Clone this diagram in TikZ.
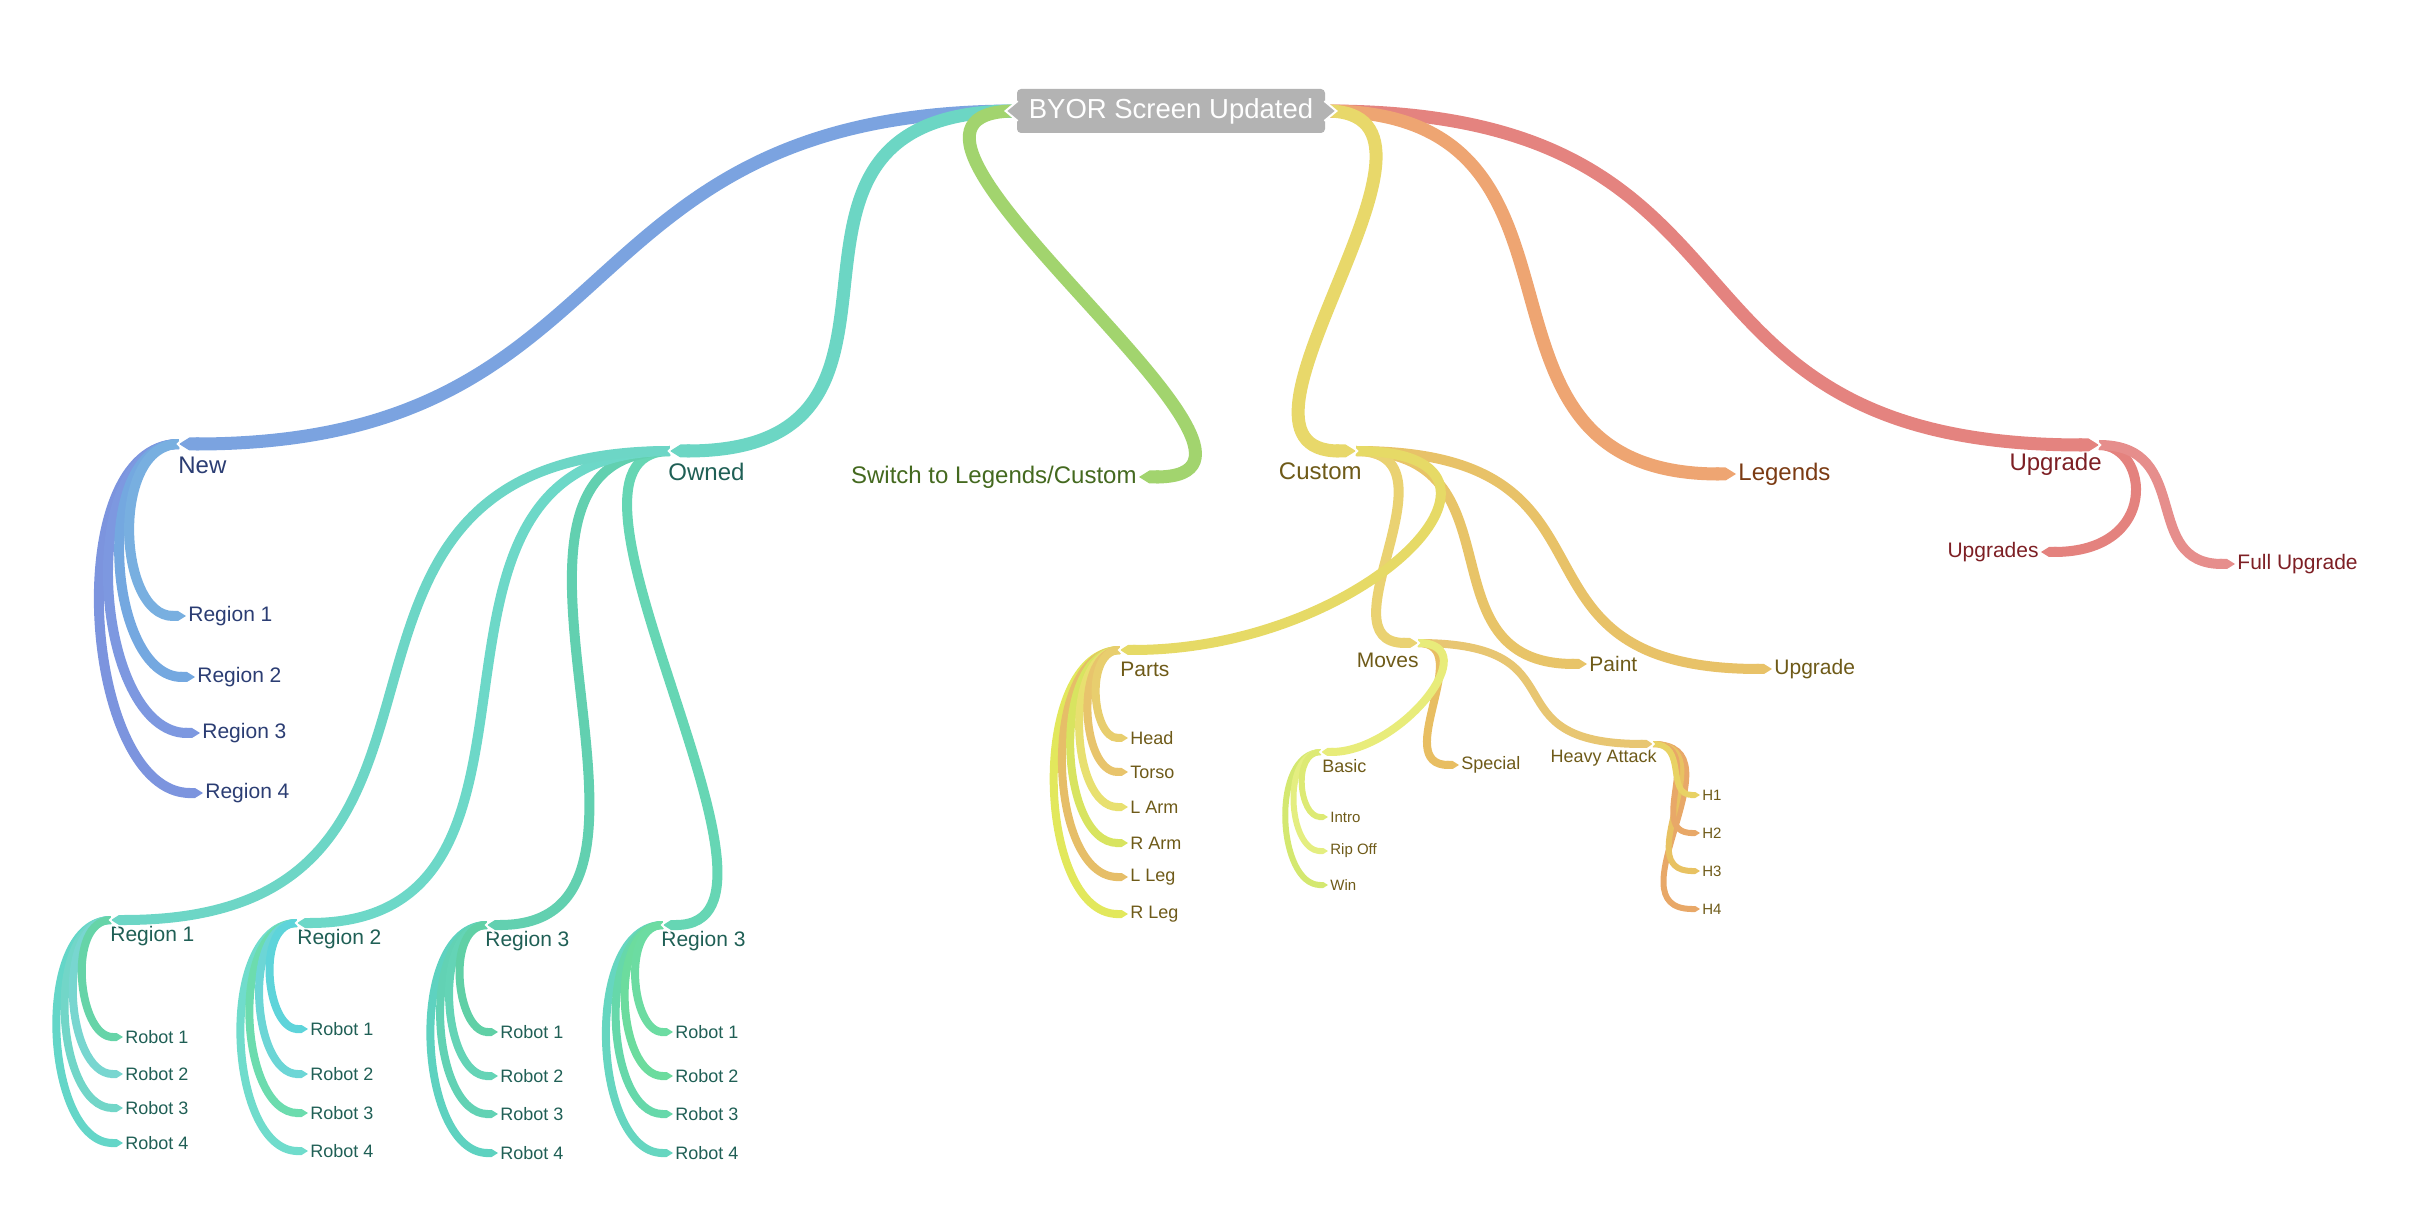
\documentclass[tikz,border=0pt]{standalone}
\usepackage{fontspec}
\setmainfont{Liberation Sans}
\usetikzlibrary{positioning,arrows.meta}

\definecolor{boxgray}{HTML}{B3B3B3}
\definecolor{navytxt}{HTML}{2B3D73}
\definecolor{tealtxt}{HTML}{1F5F55}
\definecolor{greentxt}{HTML}{44691F}
\definecolor{olivetxt}{HTML}{6E5A18}
\definecolor{browntxt}{HTML}{7B3B13}
\definecolor{redtxt}{HTML}{7D1F24}
\definecolor{bluemain}{HTML}{7BA3E0}
\definecolor{tealmain}{HTML}{6CD6C4}
\definecolor{greenmain}{HTML}{A2D46E}
\definecolor{yellowmain}{HTML}{E8D86A}
\definecolor{orangemain}{HTML}{EEA572}
\definecolor{redmain}{HTML}{E4837F}
% second level
\definecolor{nb1}{HTML}{78AFE0}\definecolor{nb2}{HTML}{74A8E0}
\definecolor{nb3}{HTML}{7D98E0}\definecolor{nb4}{HTML}{7C94DE}
\definecolor{to1}{HTML}{6DD6C6}\definecolor{to2}{HTML}{6DD8C8}
\definecolor{to3}{HTML}{62D0B0}\definecolor{to4}{HTML}{66D6B4}
\definecolor{r11}{HTML}{66D4A8}\definecolor{r12}{HTML}{78D6D0}
\definecolor{r13}{HTML}{72D6C8}\definecolor{r14}{HTML}{64D6C8}
\definecolor{r21}{HTML}{5ED4DA}\definecolor{r22}{HTML}{6CD6D6}
\definecolor{r23}{HTML}{6CDCAE}\definecolor{r24}{HTML}{70DCCC}
\definecolor{r31}{HTML}{60D0A6}\definecolor{r32}{HTML}{64D4B6}
\definecolor{r33}{HTML}{62D2B4}\definecolor{r34}{HTML}{5ED2C0}
\definecolor{r41}{HTML}{6CDCA2}\definecolor{r42}{HTML}{6CDC9E}
\definecolor{r43}{HTML}{66D8AA}\definecolor{r44}{HTML}{66D6C0}
\definecolor{cparts}{HTML}{E6DA66}\definecolor{cmoves}{HTML}{EAD272}
\definecolor{cpaint}{HTML}{E8C468}\definecolor{cupgc}{HTML}{E8C268}
\definecolor{ph}{HTML}{E8CE6E}\definecolor{pt}{HTML}{E8C46C}
\definecolor{pla}{HTML}{E8E070}\definecolor{pra}{HTML}{D8E460}
\definecolor{pll}{HTML}{E6BE68}\definecolor{prl}{HTML}{E2E85C}
\definecolor{mbasic}{HTML}{E8EC7A}\definecolor{mspec}{HTML}{E8BE62}
\definecolor{mheavy}{HTML}{E8C672}
\definecolor{bi}{HTML}{DDEA74}\definecolor{brip}{HTML}{E4EE80}
\definecolor{bw}{HTML}{D4E870}
\definecolor{hh1}{HTML}{E8D264}\definecolor{hh2}{HTML}{E8A868}
\definecolor{hh3}{HTML}{E8C262}\definecolor{hh4}{HTML}{E8A868}
\definecolor{upgsc}{HTML}{E4827E}\definecolor{fullc}{HTML}{E68E8C}

\tikzset{
  b1/.style={line width=6.5pt,-{Triangle Cap[length=0pt 0.8]}},
  b2/.style={line width=5pt,-{Triangle Cap[length=0pt 0.8]}},
  b3/.style={line width=4pt,-{Triangle Cap[length=0pt 0.8]}},
  b4/.style={line width=3pt,-{Triangle Cap[length=0pt 0.8]}},
  t1/.style={inner sep=1pt,font=\fontsize{12}{14}\selectfont},
  t2/.style={inner sep=1pt,font=\fontsize{10.5}{12}\selectfont},
  t3/.style={inner sep=1pt,font=\fontsize{9}{11}\selectfont},
  t4/.style={inner sep=1pt,font=\fontsize{7.5}{9}\selectfont},
  notch/.pic={\draw[white,line width=1pt] (7,-8) -- (-1,0) -- (7,8);}
}

\begin{document}
\begin{tikzpicture}[x=0.5pt,y=-0.5pt]
\useasboundingbox (0,0) rectangle (2416,1224);

\node[fill=boxgray,text=white,rounded corners=2pt,minimum width=154pt,minimum height=22pt,inner sep=0pt,font=\fontsize{13.75}{16}\selectfont] (root) at (1171,111) {BYOR Screen Updated};
\coordinate (rl) at ([xshift=-0.5pt]root.west);
\coordinate (rr) at ([xshift=0.5pt]root.east);

% hubs
\coordinate (new) at (179,444);
\coordinate (own) at (670,451);
\coordinate (cus) at (1356,451);
\coordinate (upg) at (2099,445);
\coordinate (o1) at (111,920);
\coordinate (o2) at (297,923);
\coordinate (o3) at (487,925);
\coordinate (o4) at (663,925);
\coordinate (parts) at (1120,650);
\coordinate (moves) at (1418,643);
\coordinate (basic) at (1321,752);
\coordinate (heavy) at (1653,744);

% labels
\node[t1,anchor=west,text=navytxt] (new-l) at (176,465) {New};
\node[t2,anchor=west,text=navytxt] (nr1) at (186,616) {Region 1};
\node[t2,anchor=west,text=navytxt] (nr2) at (195,677) {Region 2};
\node[t2,anchor=west,text=navytxt] (nr3) at (200,733) {Region 3};
\node[t2,anchor=west,text=navytxt] (nr4) at (203,793) {Region 4};

\node[t1,anchor=west,text=tealtxt] (own-l) at (666,472) {Owned};
\node[t2,anchor=west,text=tealtxt] (o1-l) at (108,936) {Region 1};
\node[t2,anchor=west,text=tealtxt] (o2-l) at (295,939) {Region 2};
\node[t2,anchor=west,text=tealtxt] (o3-l) at (483,941) {Region 3};
\node[t2,anchor=west,text=tealtxt] (o4-l) at (659,941) {Region 3};
\node[t3,anchor=west,text=tealtxt] (o1r1) at (123,1037) {Robot 1};
\node[t3,anchor=west,text=tealtxt] (o1r2) at (123,1074) {Robot 2};
\node[t3,anchor=west,text=tealtxt] (o1r3) at (123,1108) {Robot 3};
\node[t3,anchor=west,text=tealtxt] (o1r4) at (123,1143) {Robot 4};
\node[t3,anchor=west,text=tealtxt] (o2r1) at (308,1029) {Robot 1};
\node[t3,anchor=west,text=tealtxt] (o2r2) at (308,1074) {Robot 2};
\node[t3,anchor=west,text=tealtxt] (o2r3) at (308,1113) {Robot 3};
\node[t3,anchor=west,text=tealtxt] (o2r4) at (308,1151) {Robot 4};
\node[t3,anchor=west,text=tealtxt] (o3r1) at (498,1032) {Robot 1};
\node[t3,anchor=west,text=tealtxt] (o3r2) at (498,1076) {Robot 2};
\node[t3,anchor=west,text=tealtxt] (o3r3) at (498,1114) {Robot 3};
\node[t3,anchor=west,text=tealtxt] (o3r4) at (498,1153) {Robot 4};
\node[t3,anchor=west,text=tealtxt] (o4r1) at (673,1032) {Robot 1};
\node[t3,anchor=west,text=tealtxt] (o4r2) at (673,1076) {Robot 2};
\node[t3,anchor=west,text=tealtxt] (o4r3) at (673,1114) {Robot 3};
\node[t3,anchor=west,text=tealtxt] (o4r4) at (673,1153) {Robot 4};

\node[t1,anchor=east,text=greentxt] (sw) at (1139,477) {Switch to Legends/Custom};

\node[t1,anchor=east,text=olivetxt] (cus-l) at (1364,471) {Custom};
\node[t2,anchor=west,text=olivetxt] (parts-l) at (1118,669) {Parts};
\node[t3,anchor=west,text=olivetxt] (p1) at (1128,738) {Head};
\node[t3,anchor=west,text=olivetxt] (p2) at (1128,772) {Torso};
\node[t3,anchor=west,text=olivetxt] (p3) at (1128,807) {L Arm};
\node[t3,anchor=west,text=olivetxt] (p4) at (1128,843) {R Arm};
\node[t3,anchor=west,text=olivetxt] (p5) at (1128,877) {L Leg};
\node[t3,anchor=west,text=olivetxt] (p6) at (1128,914) {R Leg};
\node[t2,anchor=east,text=olivetxt] (moves-l) at (1421,660) {Moves};
\node[t3,anchor=west,text=olivetxt] (basic-l) at (1320,766) {Basic};
\node[t4,anchor=west,text=olivetxt] (m1) at (1328,817) {Intro};
\node[t4,anchor=west,text=olivetxt] (m2) at (1328,851) {Rip Off};
\node[t4,anchor=west,text=olivetxt] (m3) at (1328,885) {Win};
\node[t3,anchor=west,text=olivetxt] (spec) at (1459,765) {Special};
\node[t3,anchor=east,text=olivetxt] (heavy-l) at (1659,758) {Heavy Attack};
\node[t4,anchor=west,text=olivetxt] (h1) at (1700,795) {H1};
\node[t4,anchor=west,text=olivetxt] (h2) at (1700,833) {H2};
\node[t4,anchor=west,text=olivetxt] (h3) at (1700,871) {H3};
\node[t4,anchor=west,text=olivetxt] (h4) at (1700,909) {H4};
\node[t2,anchor=west,text=olivetxt] (paint) at (1587,664) {Paint};
\node[t2,anchor=west,text=olivetxt] (cupg) at (1772,669) {Upgrade};

\node[t1,anchor=west,text=browntxt] (leg) at (1736,474) {Legends};

\node[t1,anchor=east,text=redtxt] (upg-l) at (2104,464) {Upgrade};
\node[t2,anchor=east,text=redtxt] (upgs) at (2041,552) {Upgrades};
\node[t2,anchor=west,text=redtxt] (full) at (2235,564) {Full Upgrade};

% leaves first
\draw[b2,nb4] (new) .. controls +(-120,0) and +(-120,0) .. (nr4.west);
\draw[b2,nb3] (new) .. controls +(-106,0) and +(-106,0) .. (nr3.west);
\draw[b2,nb2] (new) .. controls +(-88,0) and +(-88,0) .. (nr2.west);
\draw[b2,nb1] (new) .. controls +(-69,0) and +(-69,0) .. (nr1.west);

\draw[b3,r14] (o1) .. controls +(-79,0) and +(-79,0) .. (o1r4.west);
\draw[b3,r13] (o1) .. controls +(-68,0) and +(-68,0) .. (o1r3.west);
\draw[b3,r12] (o1) .. controls +(-57,0) and +(-57,0) .. (o1r2.west);
\draw[b3,r11] (o1) .. controls +(-45,0) and +(-45,0) .. (o1r1.west);
\draw[b3,r24] (o2) .. controls +(-81,0) and +(-81,0) .. (o2r4.west);
\draw[b3,r23] (o2) .. controls +(-69,0) and +(-69,0) .. (o2r3.west);
\draw[b3,r22] (o2) .. controls +(-56,0) and +(-56,0) .. (o2r2.west);
\draw[b3,r21] (o2) .. controls +(-42,0) and +(-42,0) .. (o2r1.west);
\draw[b3,r34] (o3) .. controls +(-81,0) and +(-81,0) .. (o3r4.west);
\draw[b3,r33] (o3) .. controls +(-68,0) and +(-68,0) .. (o3r3.west);
\draw[b3,r32] (o3) .. controls +(-56,0) and +(-56,0) .. (o3r2.west);
\draw[b3,r31] (o3) .. controls +(-42,0) and +(-42,0) .. (o3r1.west);
\draw[b3,r44] (o4) .. controls +(-81,0) and +(-81,0) .. (o4r4.west);
\draw[b3,r43] (o4) .. controls +(-68,0) and +(-68,0) .. (o4r3.west);
\draw[b3,r42] (o4) .. controls +(-56,0) and +(-56,0) .. (o4r2.west);
\draw[b3,r41] (o4) .. controls +(-42,0) and +(-42,0) .. (o4r1.west);

\draw[b3,prl] (parts) .. controls +(-92,0) and +(-92,0) .. (p6.west);
\draw[b3,pll] (parts) .. controls +(-81,0) and +(-81,0) .. (p5.west);
\draw[b3,pra] (parts) .. controls +(-70,0) and +(-70,0) .. (p4.west);
\draw[b3,pla] (parts) .. controls +(-58,0) and +(-58,0) .. (p3.west);
\draw[b3,pt] (parts) .. controls +(-47,0) and +(-47,0) .. (p2.west);
\draw[b3,ph] (parts) .. controls +(-36,0) and +(-36,0) .. (p1.west);

\draw[b4,bw] (basic) .. controls +(-51,0) and +(-51,0) .. (m3.west);
\draw[b4,brip] (basic) .. controls +(-40,0) and +(-40,0) .. (m2.west);
\draw[b4,bi] (basic) .. controls +(-29,0) and +(-29,0) .. (m1.west);

\draw[b4,hh4] (heavy) .. controls +(92,0) and +(-92,0) .. (h4.west);
\draw[b4,hh3] (heavy) .. controls +(73,0) and +(-73,0) .. (h3.west);
\draw[b4,hh2] (heavy) .. controls +(55,0) and +(-55,0) .. (h2.west);
\draw[b4,hh1] (heavy) .. controls +(35,0) and +(-35,0) .. (h1.west);

% middle level
\draw[b3,mspec] (moves) .. controls +(60,0) and +(-70,0) .. (spec.west);
\draw[b3,mheavy] (moves) .. controls +(170,0) and +(-170,0) .. (heavy);
\draw[b3,mbasic] (moves) .. controls +(70,0) and +(80,0) .. (basic);
\pic[scale=0.8] at (basic) {notch};
\pic[scale=0.8,xscale=-1] at (heavy) {notch};

\draw[b2,cupgc] (cus) .. controls +(290,0) and +(-290,0) .. (cupg.west);
\draw[b2,cpaint] (cus) .. controls +(170,0) and +(-170,0) .. (paint.west);
\draw[b2,cmoves] (cus) .. controls +(110,0) and +(-100,0) .. (moves);
\draw[b2,cparts] (cus) .. controls +(200,0) and +(250,0) .. (parts);
\pic[xscale=-1] at (moves) {notch};
\pic at (parts) {notch};

\draw[b2,to4] (own) .. controls +(-150,0) and +(160,0) .. (o4);
\draw[b2,to3] (own) .. controls +(-230,0) and +(230,0) .. (o3);
\draw[b2,to2] (own) .. controls +(-300,0) and +(300,0) .. (o2);
\draw[b2,to1] (own) .. controls +(-420,0) and +(420,0) .. (o1);
\pic at (o1) {notch};
\pic at (o2) {notch};
\pic at (o3) {notch};
\pic at (o4) {notch};

\draw[b2,upgsc] (upg) .. controls +(50,0) and +(120,0) .. (upgs.east);
\draw[b2,fullc] (upg) .. controls +(95,0) and +(-95,0) .. (full.west);

% first level
\draw[b1,bluemain] (rl) .. controls +(-460,0) and +(460,0) .. (new);
\draw[b1,tealmain] (rl) .. controls +(-300,0) and +(300,0) .. (own);
\draw[b1,greenmain] (rl) .. controls +(-200,0) and +(200,0) .. (sw.east);
\draw[b1,redmain] (rr) .. controls +(470,0) and +(-470,0) .. (upg);
\draw[b1,orangemain] (rr) .. controls +(300,0) and +(-300,0) .. (leg.west);
\draw[b1,yellowmain] (rr) .. controls +(160,0) and +(-160,0) .. (cus);
\pic[scale=1.2] at (new) {notch};
\pic[scale=1.2] at (own) {notch};
\pic[scale=1.2,xscale=-1] at (cus) {notch};
\pic[scale=1.2,xscale=-1] at (upg) {notch};

% pointers of the root box
\filldraw[fill=boxgray,draw=white,line width=1pt] (root.west) ++(1,-10) -- ++(-12,10) -- ++(12,10);
\filldraw[fill=boxgray,draw=white,line width=1pt] (root.east) ++(-1,-10) -- ++(12,10) -- ++(-12,10);
\end{tikzpicture}
\end{document}
